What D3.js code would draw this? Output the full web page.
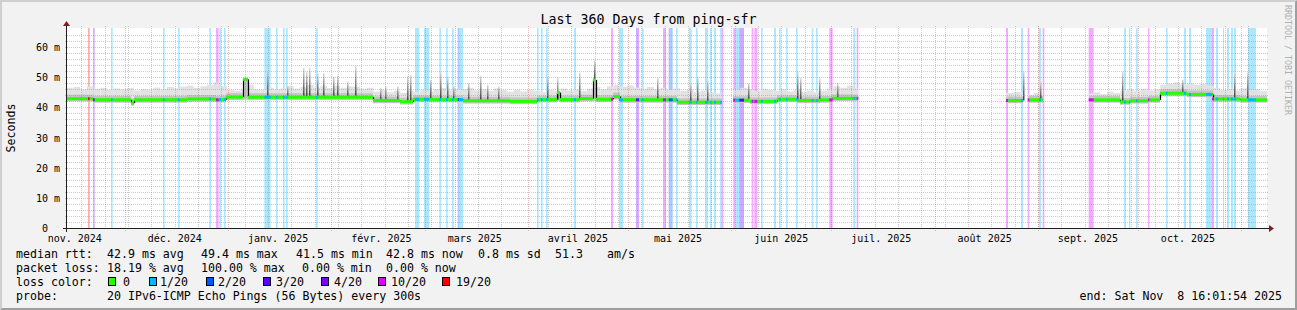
<!DOCTYPE html>
<html>
<head>
<meta charset="utf-8">
<script src="https://cdn.jsdelivr.net/npm/d3@7"></script>
<style>
body { margin: 0; background: #f2f2f2; }
svg text { font-family: "DejaVu Sans Mono", monospace; white-space: pre; }
</style>
</head>
<body>
<div id="chart"></div>
<script>
// ---- data ----
// time: days since the start of the graph (360 days ending Sat Nov 8 2025 16:01:54)
var medianDays = [0, 7.8, 19.2, 20.1, 36, 44.7, 45.6, 47.7, 52.8, 54.3, 91.8, 99.9, 103.8, 109.8, 118.8,
  132.9, 141, 147, 147.9, 153.9, 157.8, 158.7, 163.8, 165.9, 183, 196.5, 199.8, 204.9, 213, 219, 225.9,
  229.5, 237.3, 281.7, 286.8, 288.3, 292.8, 306.6, 315.9, 318.9, 324.3, 327.9, 336, 343.8, 352, 360];
// median rtt (ms) for each step, null = no data
var medianVals = [42.9, 42.5, 41.4, 42.5, 42.8, 42.5, 42.6, 43.4, 49.3, 43.4, 42.3, 41.9, 42.7, 42.6, 42.2,
  42.0, 42.6, 44.9, 42.6, 42.9, 49.1, 42.7, 43.6, 42.5, 41.7, null, 42.4, 42.0, 42.7, 42.3, 42.5,
  43.0, null, 42.3, null, 42.5, null, 42.5, 41.8, 42.2, 42.5, 44.7, 44.3, 42.8, 42.5];
// bottom of the smoke and top of the dense smoke for each step (ms)
var smokeLow = [42.0, 41.6, 40.6, 41.6, 41.9, 41.6, 41.7, 42.4, 42.6, 42.5, 41.4, 41.0, 41.8, 41.7, 41.3,
  41.1, 41.7, 42.0, 41.7, 42.0, 42.2, 41.8, 42.6, 41.6, 40.8, null, 41.5, 41.1, 41.8, 41.4, 41.6,
  42.1, null, 41.4, null, 41.6, null, 41.6, 40.9, 41.3, 41.6, 43.7, 43.4, 41.9, 41.6];
var smokeMid = [44.2, 43.8, 43.0, 43.8, 44.1, 43.8, 43.9, 44.7, 49.8, 44.7, 43.6, 43.2, 44.0, 43.9, 43.5,
  43.3, 43.9, 45.4, 43.9, 44.2, 49.6, 44.0, 44.9, 43.8, 43.0, null, 43.7, 43.3, 44.0, 43.6, 43.8,
  44.3, null, 43.6, null, 43.8, null, 43.8, 43.1, 43.5, 43.8, 46.0, 45.6, 44.1, 43.8];
// top of the light smoke, one value every 2 days
var smokeHi = [
  46.5, 46.8, 46.0, 47.0, 46.2, 46.5, 45.8, 46.3, 46.0, 46.4, 45.6, 46.0, 45.9, 46.6, 46.0,
  46.8, 46.3, 46.9, 47.2, 46.5, 47.0, 47.5, 48.3, 47.0, 45.8, 45.5, 46.0, 47.5, 46.0, 45.8,
  46.5, 46.0, 46.3, 47.0, 46.2, 46.8, 47.5, 46.6, 47.0, 46.4, 47.2, 46.5, 47.0, 46.8, 46.2,
  46.5, 45.2, 45.8, 45.0, 45.5, 44.8, 45.6, 45.0, 45.8, 45.3, 46.0, 46.4, 45.7, 46.2, 46.0,
  46.5, 45.6, 46.0, 45.4, 46.3, 45.8, 45.2, 45.8, 45.3, 45.9, 45.5, 45.0, 45.8, 45.4, 46.2,
  45.6, 46.0, 45.4, 46.2, 46.8, 46.0, 47.0, 47.5, 46.8, 47.3, 46.6, 46.2, 46.8, 46.0, 46.5,
  45.8, 46.3, 45.5, 45.9, 45.2, 45.6, 45.0, 44.6, 45.0, 45.5, 46.0, 46.5, 46.0, 45.4, 46.2,
  45.8, 45.5, 46.0, 45.3, 45.8, 45.2, 45.6, 45.0, 45.5, 46.2, 47.0, 46.5, 47.2, 46.4, null,
  null, null, null, null, null, null, null, null, null, null, null, null, null, null, null,
  null, null, null, null, null, 44.8, 44.8, 45.2, 44.6, 44.2, 44.8, 44.0, null, null, null,
  null, null, null, 44.6, 45.0, 44.4, 45.2, 44.8, 45.5, 46.0, 45.4, 46.2, 45.6, 46.0, 47.5,
  47.9, 48.3, 47.6, 48.0, 47.5, 47.8, 47.2, 46.4, 45.8, 46.2, 45.6, 46.3, 45.8, 46.0, 45.5];
// isolated high pings: day and top (ms)
var spikeDays = [59.9, 65.9, 70.9, 71.7, 72.7, 74.9, 76.9, 79.9, 80.9, 83.9, 86.4, 93.9, 95.4, 98.9,
  101.9, 102.9, 108.9, 111.9, 113.9, 115.8, 120.3, 123.9, 125.9, 129.3, 143.9, 146.9, 153.6, 158.1,
  176.9, 186.9, 188.9, 191.9, 204.4, 218.9, 219.9, 225.7, 230.9, 286.7, 291.9, 316.4, 334.6, 350.2, 353.9];
var spikeTops = [52.5, 47.2, 53.1, 51.9, 53.1, 51.4, 51.4, 50.3, 50.5, 48.6, 53.8, 46.4, 47.0, 47.0,
  50.3, 50.8, 49.2, 51.9, 50.3, 47.0, 48.1, 50.5, 47.5, 47.0, 50.3, 49.8, 51.6, 55.6,
  49.8, 48.1, 50.3, 49.2, 48.1, 51.9, 49.8, 49.8, 48.1, 51.9, 48.6, 51.9, 49.2, 51.6, 51.6];
// packet loss periods: [start day, length in days, loss class]
var lossBands = [
  [6.3, 0.5, 6], [7.8, 0.5, 4], [13.2, 0.5, 1], [28.8, 0.5, 1], [33.3, 0.5, 1], [42.7, 0.5, 1],
  [44.7, 0.8, 5], [45.7, 0.5, 1], [47.1, 0.5, 1], [59.2, 1.9, 1], [62.7, 0.5, 1], [64.8, 0.5, 1],
  [65.7, 0.5, 1], [74.7, 0.5, 1], [104.4, 1.3, 1], [107.1, 1.6, 1], [111.7, 0.5, 1], [113.7, 0.5, 1],
  [115.5, 0.5, 1], [117.2, 0.5, 2], [117.7, 1.1, 1], [141.0, 0.5, 1], [142.2, 0.5, 1], [143.7, 0.5, 1],
  [152.1, 0.6, 1], [163.2, 0.6, 5], [165.6, 1.2, 1], [170.7, 0.9, 4], [172.5, 0.5, 1], [178.8, 0.9, 5],
  [180.5, 1.2, 2], [182.7, 0.5, 1], [186.6, 0.8, 1], [188.7, 0.5, 1], [191.4, 0.9, 1], [192.9, 0.5, 1],
  [194.1, 0.6, 1], [195.9, 0.5, 1], [196.4, 0.5, 5], [199.9, 0.6, 5], [200.5, 1.2, 1], [201.7, 1.4, 3],
  [205.4, 0.5, 5], [206.2, 0.9, 5], [208.2, 0.5, 1], [212.1, 0.6, 1], [213.6, 0.5, 1], [215.7, 0.5, 1],
  [218.7, 0.5, 1], [223.4, 0.5, 1], [224.7, 0.5, 1], [228.7, 1.0, 5], [235.9, 0.6, 1], [236.9, 0.5, 5],
  [281.7, 0.6, 5], [286.2, 0.6, 1], [288.2, 0.5, 5], [291.6, 0.6, 1], [292.7, 0.5, 5], [306.5, 1.5, 5],
  [317.1, 0.6, 1], [318.6, 0.4, 1], [320.7, 0.5, 1], [324.3, 0.4, 5], [329.7, 0.5, 1], [335.1, 0.6, 1],
  [336.6, 0.6, 1], [341.7, 1.8, 1], [343.5, 0.6, 5], [344.7, 0.6, 1], [346.8, 0.3, 1], [348.0, 0.6, 1],
  [349.2, 0.6, 1], [350.1, 0.6, 1], [354.3, 2.4, 1]];
var lossColors = ["#26ff00", "#00b8ff", "#0059ff", "#5e00ff", "#7e00ff", "#dd00ff", "#ff0000"];
var lossLabels = ["0", "1/20", "2/20", "3/20", "4/20", "10/20", "19/20"];
var monthStarts = ["2024-11-01T00:00:00+01:00", "2024-12-01T00:00:00+01:00", "2025-01-01T00:00:00+01:00",
  "2025-02-01T00:00:00+01:00", "2025-03-01T00:00:00+01:00", "2025-04-01T00:00:00+02:00",
  "2025-05-01T00:00:00+02:00", "2025-06-01T00:00:00+02:00", "2025-07-01T00:00:00+02:00",
  "2025-08-01T00:00:00+02:00", "2025-09-01T00:00:00+02:00", "2025-10-01T00:00:00+02:00",
  "2025-11-01T00:00:00+01:00"];
var monthLabels = ["nov. 2024", "déc. 2024", "janv. 2025", "févr. 2025", "mars 2025", "avril 2025",
  "mai 2025", "juin 2025", "juil. 2025", "août 2025", "sept. 2025", "oct. 2025"];
var yTicks = [0, 10, 20, 30, 40, 50, 60];
var yTickLabels = ["0  ", "10 m", "20 m", "30 m", "40 m", "50 m", "60 m"];

// ---- layout ----
var W = 1297, H = 310;
var x0 = 67, y0 = 228, pw = 1200, ph = 200;
var DAY = 864e5, t0 = Date.UTC(2024, 10, 13, 15, 1, 54);

var x = d3.scaleUtc()
  .domain([new Date(t0), new Date(t0 + 360 * DAY)])
  .range([x0, x0 + pw]);
var xd = function(d) { return x(new Date(t0 + d * DAY)); };
var y = d3.scaleLinear().domain([0, 66.33]).range([y0, y0 - ph]);

var svg = d3.select("#chart").append("svg")
  .attr("width", W).attr("height", H);

// background and bevel
svg.append("rect").attr("width", W).attr("height", H).attr("fill", "#f2f2f2");
svg.append("path").attr("d", "M0,0 L0,310 L2,308 L2,2 L1295,2 L1297,0 Z").attr("fill", "#cfcfcf");
svg.append("path").attr("d", "M1297,310 L0,310 L2,308 L1295,308 L1295,2 L1297,0 Z").attr("fill", "#9e9e9e");

// canvas
svg.append("rect").attr("x", x0).attr("y", y0 - ph).attr("width", pw).attr("height", ph).attr("fill", "#fff");

var defs = svg.append("defs");
defs.append("clipPath").attr("id", "plot").append("rect")
  .attr("x", x0).attr("y", y0 - ph).attr("width", pw).attr("height", ph);
var grad = defs.append("linearGradient").attr("id", "spk")
  .attr("x1", 0).attr("y1", 1).attr("x2", 0).attr("y2", 0);
grad.append("stop").attr("offset", 0).attr("stop-color", "#3a3a3a");
grad.append("stop").attr("offset", 0.5).attr("stop-color", "#8a8a8a");
grad.append("stop").attr("offset", 1).attr("stop-color", "#dedede");

var plot = svg.append("g").attr("clip-path", "url(#plot)");

// loss background bands
plot.append("g").selectAll("rect")
  .data(lossBands)
  .enter().append("rect")
  .attr("x", function(d) { return xd(d[0]); })
  .attr("width", function(d) { return xd(d[0] + d[1]) - xd(d[0]); })
  .attr("y", y0 - ph)
  .attr("height", ph)
  .attr("fill", function(d) { return lossColors[d[2]]; })
  .attr("fill-opacity", 0.33);

function stepAt(d) {
  for (var j = 0; j < medianVals.length; j++)
    if (d >= medianDays[j] && d < medianDays[j + 1]) return j;
  return -1;
}

// light smoke
var light = [];
smokeHi.forEach(function(v, i) {
  if (v == null) return;
  var a = i * 2, b = i * 2 + 2;
  for (var j = 0; j < medianVals.length; j++) {
    if (medianVals[j] == null) continue;
    var s = Math.max(a, medianDays[j]), e = Math.min(b, medianDays[j + 1]);
    if (e <= s) continue;
    light.push({ s: s, e: e, top: Math.max(v, smokeMid[j]), low: smokeLow[j] });
  }
});
plot.append("g").selectAll("rect")
  .data(light)
  .enter().append("rect")
  .attr("x", function(d) { return xd(d.s); })
  .attr("width", function(d) { return xd(d.e) - xd(d.s); })
  .attr("y", function(d) { return y(d.top); })
  .attr("height", function(d) { return y(d.low) - y(d.top); })
  .attr("fill", "#e2e2e2");

// dense smoke near the median
var steps = d3.range(medianVals.length).filter(function(j) { return medianVals[j] != null; });
plot.append("g").selectAll("rect")
  .data(steps)
  .enter().append("rect")
  .attr("x", function(j) { return xd(medianDays[j]); })
  .attr("width", function(j) { return xd(medianDays[j + 1]) - xd(medianDays[j]); })
  .attr("y", function(j) { return y(smokeMid[j]); })
  .attr("height", function(j) { return y(smokeLow[j]) - y(smokeMid[j]); })
  .attr("fill", "#c4c4c4");

// spikes
plot.append("g").selectAll("rect")
  .data(spikeDays)
  .enter().append("rect")
  .attr("x", function(d) { return Math.round(xd(d)); })
  .attr("width", 1.5)
  .attr("y", function(d, i) { return y(spikeTops[i]); })
  .attr("height", function(d, i) { return y(medianVals[stepAt(d)]) - y(spikeTops[i]); })
  .attr("fill", "url(#spk)");

// grid
var grid = svg.append("g");
var gridCol = "rgba(143,143,143,0.45)", mgridCol = "rgba(222,79,79,0.4)";
d3.range(2, 66, 2).filter(function(v) { return v % 10 != 0; }).forEach(function(v) {
  var yy = Math.round(y(v)) + 0.5;
  grid.append("line").attr("x1", x0 - 2).attr("x2", x0 + pw + 2).attr("y1", yy).attr("y2", yy)
    .attr("stroke", gridCol).attr("stroke-dasharray", "1,1");
});
yTicks.slice(1).forEach(function(v) {
  var yy = Math.round(y(v)) + 0.5;
  grid.append("line").attr("x1", x0 - 2).attr("x2", x0 + pw + 2).attr("y1", yy).attr("y2", yy)
    .attr("stroke", mgridCol).attr("stroke-dasharray", "1,1");
});
var months = monthStarts.map(function(s) { return new Date(s); });
var monthKeys = months.map(function(m) { return d3.utcDay.floor(m).getTime(); });
d3.utcMonday.range(new Date(t0), new Date(t0 + 360 * DAY)).forEach(function(m) {
  var shifted = new Date(m.getTime() - 3600e3);
  if (monthKeys.indexOf(m.getTime()) >= 0) return;
  var xx = Math.round(x(shifted)) + 0.5;
  grid.append("line").attr("x1", xx).attr("x2", xx).attr("y1", y0 - ph - 2).attr("y2", y0 + 2)
    .attr("stroke", gridCol).attr("stroke-dasharray", "1,1");
});
months.forEach(function(m) {
  if (m < x.domain()[0] || m > x.domain()[1]) return;
  var xx = Math.round(x(m)) + 0.5;
  grid.append("line").attr("x1", xx).attr("x2", xx).attr("y1", y0 - ph - 2).attr("y2", y0 + 3)
    .attr("stroke", mgridCol).attr("stroke-dasharray", "1,1");
});

// median: black joins, then coloured steps
var med = svg.append("g").attr("clip-path", "url(#plot)");
for (var j = 0; j < medianVals.length - 1; j++) {
  if (medianVals[j] == null || medianVals[j + 1] == null) continue;
  var xx = Math.round(xd(medianDays[j + 1])) + 0.5;
  med.append("line").attr("x1", xx).attr("x2", xx)
    .attr("y1", y(medianVals[j])).attr("y2", y(medianVals[j + 1]))
    .attr("stroke", "#000").attr("stroke-width", 1.2);
}
med.append("g").selectAll("line")
  .data(steps)
  .enter().append("line")
  .attr("x1", function(j) { return xd(medianDays[j]); })
  .attr("x2", function(j) { return xd(medianDays[j + 1]); })
  .attr("y1", function(j) { return y(medianVals[j]); })
  .attr("y2", function(j) { return y(medianVals[j]); })
  .attr("stroke", lossColors[0])
  .attr("stroke-width", 3);
med.append("g").selectAll("line")
  .data(lossBands.filter(function(b) { var k = stepAt(b[0] + b[1] / 2); return k >= 0 && medianVals[k] != null; }))
  .enter().append("line")
  .attr("x1", function(b) { return xd(b[0]); })
  .attr("x2", function(b) { return xd(b[0] + b[1]); })
  .attr("y1", function(b) { return y(medianVals[stepAt(b[0] + b[1] / 2)]); })
  .attr("y2", function(b) { return y(medianVals[stepAt(b[0] + b[1] / 2)]); })
  .attr("stroke", function(b) { return lossColors[b[2]]; })
  .attr("stroke-width", 3);

// axes and arrows
var ax = svg.append("g");
ax.append("line").attr("x1", x0 - 4).attr("x2", x0 + pw + 4).attr("y1", y0 + 0.5).attr("y2", y0 + 0.5)
  .attr("stroke", "#1f1f1f");
ax.append("line").attr("x1", x0 - 0.5).attr("x2", x0 - 0.5).attr("y1", y0 + 4).attr("y2", y0 - ph - 4)
  .attr("stroke", "#1f1f1f");
ax.append("path").attr("fill", "#801f1f")
  .attr("d", "M" + (x0 + pw + 2) + "," + (y0 - 3) + " L" + (x0 + pw + 2) + "," + (y0 + 4) + " L" + (x0 + pw + 7) + "," + (y0 + 0.5) + "Z");
ax.append("path").attr("fill", "#801f1f")
  .attr("d", "M" + (x0 - 4) + "," + (y0 - ph - 2) + " L" + (x0 + 3) + "," + (y0 - ph - 2) + " L" + (x0 - 0.5) + "," + (y0 - ph - 7) + "Z");

// axis labels
svg.append("g").selectAll("text")
  .data(monthLabels)
  .enter().append("text")
  .attr("x", function(d, i) { return x(new Date(months[i].getTime() + 15 * DAY)); })
  .attr("y", 241.5)
  .attr("text-anchor", "middle")
  .style("font-size", "10px")
  .text(function(d) { return d; });
svg.append("g").selectAll("text")
  .data(yTicks)
  .enter().append("text")
  .attr("x", 60)
  .attr("y", function(d) { return Math.round(y(d)) + 4; })
  .attr("text-anchor", "end")
  .style("font-size", "10px")
  .text(function(d, i) { return yTickLabels[i]; });

svg.append("text")
  .attr("transform", "translate(15," + (y0 - ph / 2) + ") rotate(-90)")
  .attr("text-anchor", "middle")
  .style("font-size", "11.6px")
  .text("Seconds");
svg.append("text")
  .attr("x", W / 2).attr("y", 23.5)
  .attr("text-anchor", "middle")
  .style("font-size", "13.3px")
  .text("Last 360 Days from ping-sfr");
svg.append("text")
  .attr("transform", "translate(1285,5) rotate(90)")
  .style("font-size", "8.3px")
  .attr("fill", "#b0b0b0")
  .text("RRDTOOL / TOBI OETIKER");

// legend
var leg = svg.append("g").style("font-size", "11.6px");
function put(xx, yy, s) { leg.append("text").attr("x", xx).attr("y", yy).text(s); }
put(16, 258, "median rtt:");
put(107, 258, "42.9 ms avg");
put(201, 258, "49.4 ms max");
put(296, 258, "41.5 ms min");
put(386, 258, "42.8 ms now");
put(478, 258, "0.8 ms sd");
put(555, 258, "51.3");
put(607, 258, "am/s");
put(16, 272, "packet loss:");
put(107, 272, "18.19 % avg");
put(201, 272, "100.00 % max");
put(302, 272, "0.00 % min");
put(386, 272, "0.00 % now");
put(16, 286, "loss color:");
var boxX = [108.5, 149.5, 206.5, 263.5, 321.5, 378.5, 442.5];
var labX = [123, 160, 218, 276, 334, 391, 456];
lossLabels.forEach(function(l, i) {
  leg.append("rect").attr("x", boxX[i]).attr("y", 277.5).attr("width", 7).attr("height", 8)
    .attr("fill", lossColors[i]).attr("stroke", "#000");
  put(labX[i], 286, l);
});
put(16, 300, "probe:");
put(107, 300, "20 IPv6-ICMP Echo Pings (56 Bytes) every 300s");
leg.append("text").attr("x", 1282).attr("y", 300).attr("text-anchor", "end")
  .text("end: Sat Nov  8 16:01:54 2025");
</script>
</body>
</html>
